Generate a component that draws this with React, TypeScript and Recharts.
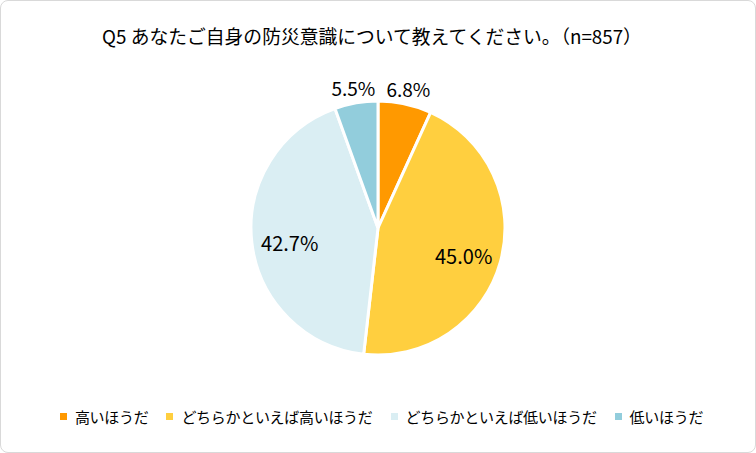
import { PieChart, Pie, Cell, Legend } from "recharts";

const categories = [
	"高いほうだ",
	"どちらかといえば高いほうだ",
	"どちらかといえば低いほうだ",
	"低いほうだ",
];
const shares = [6.8, 45.0, 42.7, 5.5];
const colors = ["#FF9900", "#FFCF3F", "#DAEEF3", "#92CDDC"];
const title = "Q5 あなたご自身の防災意識について教えてください。（n=857）";

const chartData = categories.map((name, i) => ({ name, value: shares[i] }));

const RADIAN = Math.PI / 180;
const FONT = "'Noto Sans CJK JP', 'Noto Sans', sans-serif";

const renderLabel = ({ cx, cy, midAngle, outerRadius, index }: any) => {
	// small slices get their label outside, big ones inside
	const small = shares[index] < 10;
	const r = small ? outerRadius + 16 : outerRadius * 0.7;
	const x = cx + r * Math.cos(-midAngle * RADIAN);
	const y = cy + r * Math.sin(-midAngle * RADIAN) + (small ? 0 : 4);
	return (
		<text
			x={x}
			y={y}
			fill="#000"
			fontSize={small ? 19 : 20}
			fontFamily={FONT}
			textAnchor="middle"
			dominantBaseline="central">
			{shares[index].toFixed(1)}%
		</text>
	);
};

const customLegend = () => (
	<div
		style={{
			display: "flex",
			justifyContent: "center",
			gap: 18,
			paddingLeft: 7,
			fontFamily: FONT,
			fontSize: 15,
			letterSpacing: -0.3,
			color: "#000",
		}}>
		{categories.map((name, i) => (
			<div key={name} style={{ display: "flex", alignItems: "center" }}>
				<span
					style={{
						display: "inline-block",
						width: 7,
						height: 7,
						background: colors[i],
						marginRight: 8,
					}}
				/>
				<span>{name}</span>
			</div>
		))}
	</div>
);

const App = () => {
	return (
		<div
			style={{
				position: "absolute",
				left: 0,
				top: 0,
				width: 754,
				height: 451,
				border: "1px solid #d9d9d9",
				borderRadius: 8,
				background: "#fff",
			}}>
			<div
				style={{
					position: "absolute",
					top: 22,
					left: 0,
					width: 742,
					textAlign: "center",
					fontFamily: FONT,
					fontSize: 18.8,
					color: "#000",
					lineHeight: "26px",
				}}>
				{title}
			</div>
			<PieChart width={754} height={451}>
				<Pie
					data={chartData}
					dataKey="value"
					nameKey="name"
					cx={372}
					cy={222}
					outerRadius={127}
					startAngle={90}
					endAngle={-270}
					stroke="#fff"
					strokeWidth={3}
					label={renderLabel}
					labelLine={false}
					isAnimationActive={false}>
					{chartData.map((d, i) => (
						<Cell key={d.name} fill={colors[i]} />
					))}
				</Pie>
				<Legend
					content={customLegend}
					wrapperStyle={{ position: "absolute", top: 405, left: 0, width: 754 }}
				/>
			</PieChart>
		</div>
	);
};

export default App;
